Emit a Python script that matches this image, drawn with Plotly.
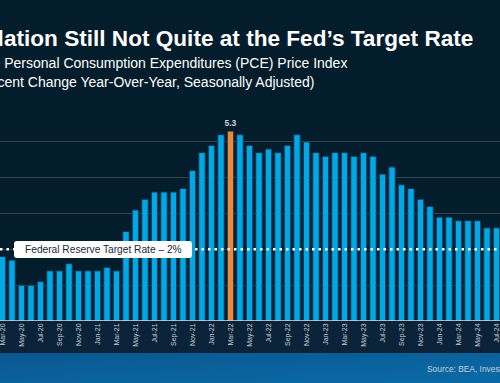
import base64
import plotly.graph_objects as go

months = ["Mar-20","Apr-20","May-20","Jun-20","Jul-20","Aug-20","Sep-20","Oct-20","Nov-20","Dec-20",
          "Jan-21","Feb-21","Mar-21","Apr-21","May-21","Jun-21","Jul-21","Aug-21","Sep-21","Oct-21","Nov-21","Dec-21",
          "Jan-22","Feb-22","Mar-22","Apr-22","May-22","Jun-22","Jul-22","Aug-22","Sep-22","Oct-22","Nov-22","Dec-22",
          "Jan-23","Feb-23","Mar-23","Apr-23","May-23","Jun-23","Jul-23","Aug-23","Sep-23","Oct-23","Nov-23","Dec-23",
          "Jan-24","Feb-24","Mar-24","Apr-24","May-24","Jun-24","Jul-24"]
pce = [1.8,1.7,1.0,1.0,1.1,1.4,1.4,1.6,1.4,1.4,
       1.4,1.5,1.4,2.5,3.1,3.4,3.6,3.6,3.6,3.7,4.2,4.7,
       4.9,5.2,5.3,5.2,4.9,4.7,4.8,4.7,4.9,5.2,5.0,4.7,
       4.6,4.7,4.7,4.6,4.7,4.6,4.1,4.3,3.8,3.7,3.4,3.2,
       2.9,2.9,2.8,2.8,2.8,2.6,2.6]
highlight = "Mar-22"
target = 2.0
tick_labels = months[::2]

W, H = 500, 383
TOP, BOT = 106, 321  # plot area pixel rows
def py(p):  # pixel row -> paper y
    return (BOT - p) / (BOT - TOP)
def px(p):
    return p / W

BLUE = "#00a9e6"
ORANGE = "#f0883a"
BG = "#031d2c"

colors = [ORANGE if m == highlight else BLUE for m in months]
texts = [f"<b>{v:.1f}</b>" if m == highlight else "" for m, v in zip(months, pce)]

fig = go.Figure()
fig.add_trace(go.Bar(
    x=months, y=pce, marker=dict(color=colors, line=dict(color="#0a3550", width=1)),
    text=texts, textposition="outside", cliponaxis=False, constraintext="none",
    textfont=dict(family="Liberation Sans, Arial", size=8.5, color="#c9d2da"),
    width=0.68,
))

fig.update_layout(
    width=W, height=H,
    margin=dict(l=0, r=0, t=TOP, b=H - BOT),
    paper_bgcolor=BG, plot_bgcolor=BG,
    showlegend=False,
    font=dict(family="Liberation Sans, Arial", color="white"),
    xaxis=dict(
        type="category", range=[-2.5/9.5, (W-2.5)/9.5],
        tickmode="array", tickvals=tick_labels, ticktext=tick_labels,
        tickangle=-90, tickfont=dict(size=7, color="#c3ccd6"),
        showgrid=False, showline=False, zeroline=False, ticks="",
    ),
    yaxis=dict(
        range=[0, 6], dtick=1, showticklabels=False,
        gridcolor="#34434d", gridwidth=1, zeroline=False, showline=False,
    ),
    bargap=0.3,
)

shapes = [
    dict(type="rect", xref="paper", yref="paper", x0=0, x1=1, y0=py(353), y1=py(BOT), fillcolor="#0b2338", line_width=0, layer="below"),
    dict(type="line", xref="paper", yref="y", x0=0, x1=1, y0=0, y1=0, line=dict(color="#dfe6ec", width=1.5), layer="above"),
    dict(type="line", xref="paper", yref="y", x0=0, x1=1, y0=target, y1=target, line=dict(color="white", width=2.5, dash="2.5px,4px"), layer="above"),
]
x0, x1, y0, y1, r = 14, 192, 241, 258, 3
path = (f"M {px(x0+r)},{py(y0)} L {px(x1-r)},{py(y0)} Q {px(x1)},{py(y0)} {px(x1)},{py(y0+r)} "
        f"L {px(x1)},{py(y1-r)} Q {px(x1)},{py(y1)} {px(x1-r)},{py(y1)} L {px(x0+r)},{py(y1)} "
        f"Q {px(x0)},{py(y1)} {px(x0)},{py(y1-r)} L {px(x0)},{py(y0+r)} Q {px(x0)},{py(y0)} {px(x0+r)},{py(y0)} Z")
shapes.append(dict(type="path", xref="paper", yref="paper", path=path, fillcolor="white", line_width=0, layer="above"))
fig.update_layout(shapes=shapes)

svg = ("<svg xmlns='http://www.w3.org/2000/svg' width='500' height='30' preserveAspectRatio='none'>"
       "<defs><linearGradient id='g' x1='0' y1='0' x2='1' y2='1'>"
       "<stop offset='0' stop-color='#0a5890'/><stop offset='1' stop-color='#0a6aa6'/></linearGradient></defs>"
       "<rect width='500' height='30' fill='url(#g)'/></svg>")
src = "data:image/svg+xml;base64," + base64.b64encode(svg.encode()).decode()
fig.add_layout_image(dict(source=src, xref="paper", yref="paper", x=0, y=py(353), sizex=1, sizey=py(353) - py(383),
                          xanchor="left", yanchor="top", sizing="stretch", layer="below"))

anns = [
    dict(text="<b>Inflation Still Not Quite at the Fed’s Target Rate</b>", x=px(-32), y=py(38), xanchor="left", yanchor="middle",
         font=dict(size=22.6, color="white")),
    dict(text="Core Personal Consumption Expenditures (PCE) Price Index", x=px(-32), y=py(63), xanchor="left", yanchor="middle",
         font=dict(size=14, color="white")),
    dict(text="(Percent Change Year-Over-Year, Seasonally Adjusted)", x=px(-31), y=py(82), xanchor="left", yanchor="middle",
         font=dict(size=14, color="white")),
    dict(text="Federal Reserve Target Rate – 2%", x=px(103), y=py(249.5), xanchor="center", yanchor="middle",
         font=dict(size=10.2, color="#1b2733")),
    dict(text="Source: BEA, Investing.com", x=px(425), y=py(369), xanchor="left", yanchor="middle",
         font=dict(size=8.4, color="#c0cfdd")),
]
for a in anns:
    a.update(xref="paper", yref="paper", showarrow=False)
fig.update_layout(annotations=anns)

fig.write_html("out.html", config={"displayModeBar": False},
               post_script="document.body.style.margin='0';document.body.style.background='%s';" % BG)
